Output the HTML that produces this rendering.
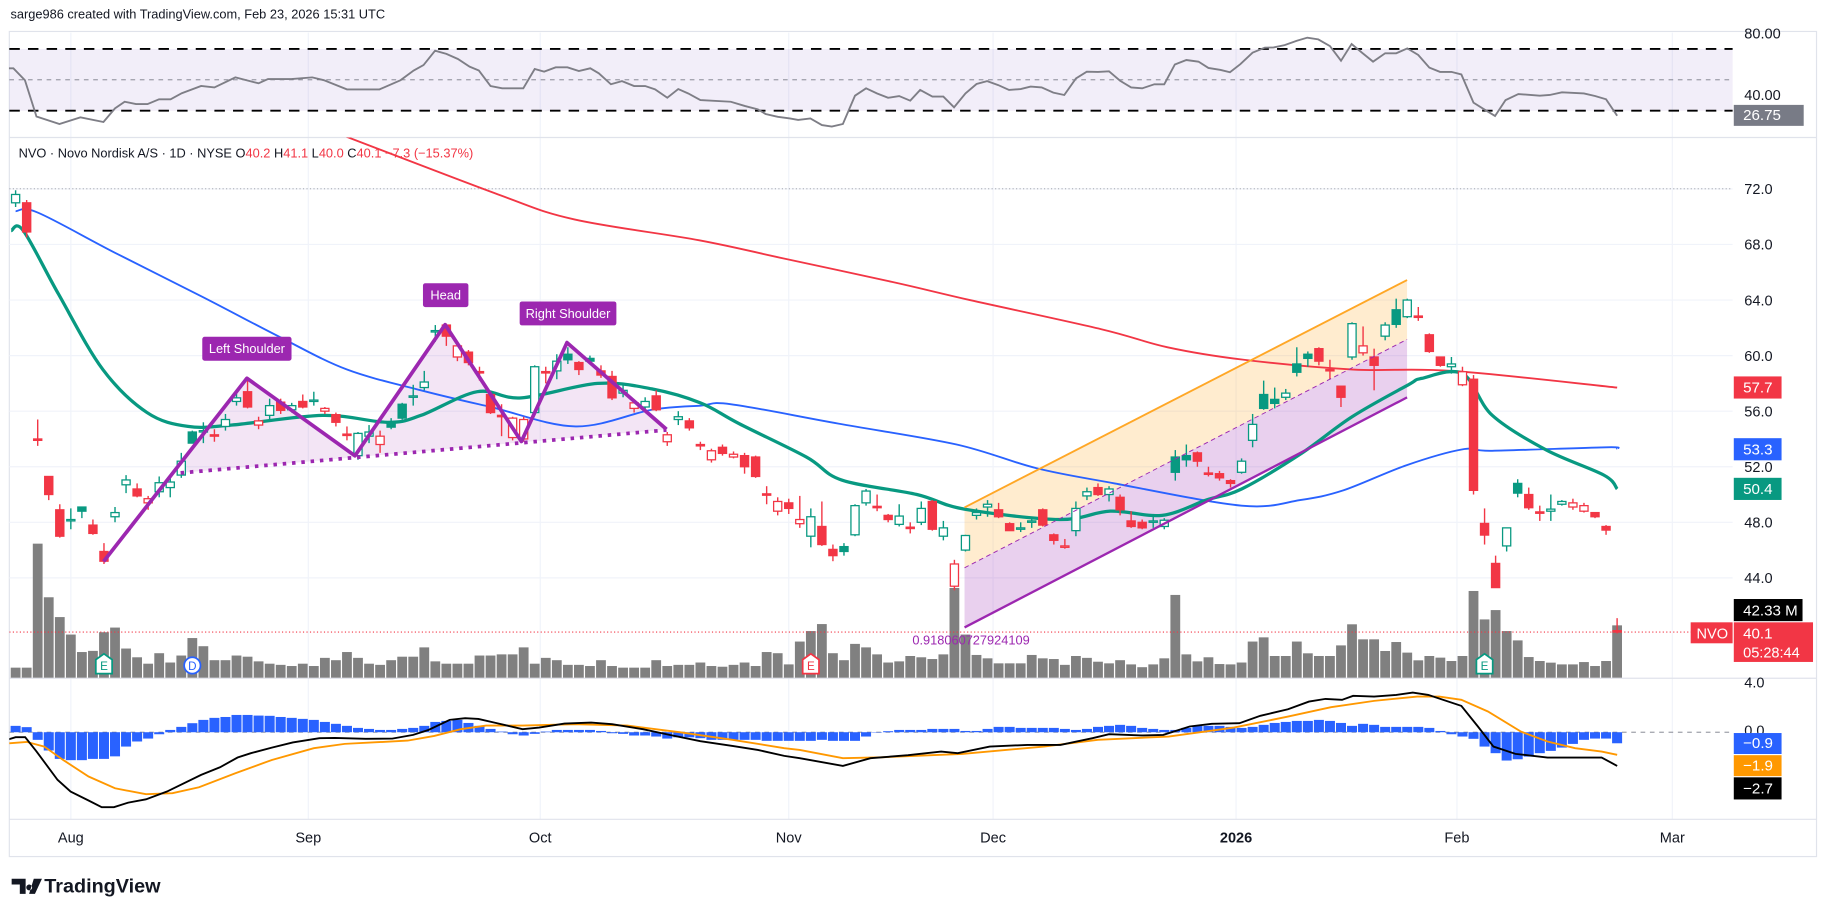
<!DOCTYPE html>
<html><head><meta charset="utf-8">
<style>
html,body{margin:0;padding:0;background:#fff;}
svg{display:block;font-family:"Liberation Sans",sans-serif;}
</style></head>
<body>
<svg id="chart" xmlns="http://www.w3.org/2000/svg" width="1827" height="916" viewBox="0 0 1568 786" preserveAspectRatio="none">
  <text x="9" y="16" font-size="11" fill="#131722">sarge986 created with TradingView.com, Feb 23, 2026 15:31 UTC</text>
  <rect x="8" y="27" width="1551" height="708" fill="#fff" stroke="#e0e3eb" stroke-width="1"/>
  <g id="grid"></g>
  <rect x="8" y="42" width="1479" height="53" fill="#7e57c2" fill-opacity="0.1"/>
  <line x1="8" y1="42" x2="1487" y2="42" stroke="#000" stroke-width="1.6" stroke-dasharray="9,7"/>
  <line x1="8" y1="95" x2="1487" y2="95" stroke="#000" stroke-width="1.6" stroke-dasharray="9,7"/>
  <line x1="8" y1="68.5" x2="1487" y2="68.5" stroke="#787b86" stroke-width="0.8" stroke-dasharray="4,4"/>
  <g id="rsi"></g>
  <line x1="8" y1="118" x2="1559" y2="118" stroke="#e0e3eb"/>
  <line x1="8" y1="582" x2="1559" y2="582" stroke="#e0e3eb"/>
  <line x1="8" y1="703" x2="1559" y2="703" stroke="#e0e3eb"/>
  <line x1="8" y1="162" x2="1487" y2="162" stroke="#9598a1" stroke-width="0.8" stroke-dasharray="1,2"/>
  <defs><clipPath id="mainClip"><rect x="8" y="118" width="1479" height="464"/></clipPath>
  <clipPath id="macdClip"><rect x="8" y="582" width="1479" height="121"/></clipPath></defs>
  <g id="main" clip-path="url(#mainClip)"></g>
  <g id="macd" clip-path="url(#macdClip)"></g>
  <g id="axis"></g>
  <text x="16" y="135" font-size="11" fill="#131722">
    <tspan x="16" y="135">NVO · Novo Nordisk A/S · 1D · NYSE  O</tspan><tspan fill="#f23645">40.2</tspan><tspan>  H</tspan><tspan fill="#f23645">41.1</tspan><tspan>  L</tspan><tspan fill="#f23645">40.0</tspan><tspan>  C</tspan><tspan fill="#f23645">40.1  −7.3 (−15.37%)</tspan>
  </text>
  <g>
    <path d="M10 754 h12 v13 h-5 v-8 h-7z M25 759 a2.5 2.5 0 1 0 0.1 0z M29 754 h7 l-6 13 h-5z" fill="#131722"/>
    <text x="38" y="766" font-size="17" font-weight="bold" fill="#131722">TradingView</text>
  </g>
</svg>
<script>
const opens=[71.0,71.0,54.0,51.3,48.9,48.1,49.1,47.8,45.9,48.4,50.7,50.4,49.4,50.2,50.5,51.4,54.5,54.5,54.3,54.9,56.7,57.4,55.0,55.7,56.65,56.1,56.7,56.7,56.0,55.75,54.35,52.8,54.2,53.6,55.2,56.5,57.0,57.7,61.7,62.2,59.9,60.25,58.85,57.2,55.7,54.1,54.0,55.9,58.85,58.9,60.1,59.5,59.8,58.9,58.5,57.3,56.2,56.3,57.1,53.8,55.4,55.3,53.6,52.5,53.4,52.7,52.8,52.7,50.05,48.8,49.4,47.9,47.0,47.7,46.05,46.25,47.1,49.4,49.15,48.5,47.85,47.65,48.0,49.5,47.0,43.4,46.0,48.5,49.1,48.9,47.9,47.55,48.05,48.9,47.1,46.2,47.4,49.9,50.5,50.0,49.8,48.1,48.0,48.05,47.7,52.7,52.8,53.0,51.55,51.5,51.0,51.6,53.9,57.2,56.85,57.0,59.4,60.1,60.5,59.0,57.8,59.9,60.2,59.9,61.4,63.3,62.8,62.85,61.5,59.9,59.2,57.9,58.3,47.92,45.04,46.3,50.8,50.0,48.75,48.8,49.3,49.1,48.8,48.7,47.7,40.2];
const highs=[71.9,71.2,55.4,51.3,49.3,49.0,49.1,48.2,46.5,49.1,51.4,50.8,49.9,51.3,51.2,53.0,54.6,55.2,54.7,55.8,57.5,58.2,55.6,56.9,56.9,56.6,57.2,57.4,56.3,55.9,54.9,54.5,55.0,54.6,55.5,56.6,57.9,58.9,62.2,62.3,60.9,60.4,59.2,57.4,56.5,55.6,55.6,59.3,59.2,60.1,60.6,59.6,60.0,59.3,58.9,57.9,56.8,57.0,57.5,54.5,56.0,55.5,53.8,53.3,53.6,53.1,53.0,52.8,50.6,49.8,49.7,49.9,49.0,49.5,46.4,46.5,49.3,50.4,50.0,48.6,49.3,48.0,49.5,49.6,48.1,45.3,47.1,49.0,49.6,49.4,48.0,48.0,48.4,49.0,47.2,46.8,49.5,50.5,50.8,50.6,50.0,48.8,48.2,48.6,48.3,53.2,53.6,53.1,52.0,51.7,51.1,52.6,55.8,58.2,57.7,57.6,60.6,60.3,60.6,59.7,57.8,62.4,62.1,60.5,62.4,64.1,64.1,63.5,61.6,59.9,59.9,59.2,58.6,49.0,45.6,47.6,51.1,50.5,49.2,50.0,49.6,49.7,49.4,48.7,47.8,41.1];
const lows=[70.7,68.5,53.5,49.6,46.9,47.5,48.3,47.1,45.0,48.0,50.1,49.8,48.9,49.8,49.8,51.2,53.7,53.7,53.8,54.6,56.4,56.2,54.7,55.4,55.8,55.9,56.2,56.4,55.8,54.9,53.9,52.5,53.7,53.0,54.7,55.4,56.4,57.5,61.0,60.7,59.6,59.3,58.2,55.8,54.2,53.9,53.8,55.7,58.0,58.3,59.4,58.6,59.4,58.4,56.8,57.0,55.9,56.0,56.0,53.5,55.0,54.6,53.2,52.3,52.8,52.6,51.5,51.2,49.3,48.5,48.6,47.6,46.2,46.3,45.2,45.6,47.0,49.2,48.8,48.0,47.7,47.2,47.8,47.4,46.7,43.1,45.9,48.2,48.4,48.3,47.4,47.3,47.6,47.7,46.4,46.1,47.0,49.6,49.9,49.5,48.5,47.6,47.5,47.6,47.5,51.0,52.0,52.0,51.3,51.0,50.5,51.5,53.4,56.1,56.2,56.8,58.5,59.2,59.3,58.3,56.3,59.7,60.0,57.5,61.1,62.0,62.7,62.5,60.2,59.2,58.7,57.8,50.0,46.4,43.3,45.9,49.8,48.9,48.1,48.1,49.2,48.9,48.7,48.3,47.1,40.0];
const closes=[71.6,68.9,53.9,50.0,47.0,48.2,48.8,47.2,45.2,48.7,51.05,49.9,49.7,50.85,50.9,52.4,53.7,54.6,54.25,55.4,56.96,56.3,55.3,56.4,56.06,56.4,56.3,56.8,56.2,55.2,54.3,54.4,54.5,54.2,54.85,55.5,57.1,58.1,61.8,61.4,60.7,59.5,58.8,55.9,55.6,55.5,55.4,59.2,58.8,59.6,59.7,59.0,59.6,58.6,56.96,57.5,56.6,56.7,56.1,54.3,55.6,54.8,53.5,53.15,52.96,52.9,52.0,51.3,50.0,49.5,49.0,48.2,48.4,46.4,45.6,45.9,49.2,50.25,49.1,48.2,48.45,47.6,49.0,47.5,47.6,45.0,47.05,48.7,49.3,48.4,47.4,47.6,48.1,47.8,46.7,46.3,49.0,50.2,50.0,50.4,48.9,47.7,47.6,48.1,48.15,51.6,52.5,52.4,51.5,51.2,50.8,52.4,55.05,56.2,56.56,57.3,58.8,59.8,59.6,58.96,57.0,62.3,60.7,59.3,62.2,62.25,64.0,62.8,60.3,59.3,59.4,58.84,50.3,47.08,43.3,47.6,50.1,49.05,48.7,48.95,49.5,49.4,49.2,48.4,47.44,40.1];
const volumes=[8.6,8.6,115,69,52,37,22,23,39,43,25,17.5,12,21,13,19,34,27,15,15,19,18,14,12,11,10,12,10,17,15,22,17,12,11,15,18,18,26,14,12,12,12,19,19,20,20,26,12,17,15,11,11,10,15,10,8.6,8.6,8.6,15,10,11,
 11,13,10,9.4,11,13,10,22,21,11.4,31,40,46,21,15,29,26,20,13,14,18.6,17.5,16,20,77,37,19.5,16.6,12.3,12.3,12.3,19.5,16.6,16,11,18.6,17,13.7,12.3,15,11.4,9,11.4,16.6,71,20,14,17.5,11.7,11.4,13,31,34.6,18.6,18.6,31,
 20.9,18.6,18.6,27.7,45.8,32.9,32.9,22.9,30.6,21.5,14.9,18.6,17.2,14.3,18.6,74.4,50,58,40,32,17.7,14.3,12.9,11.4,11.4,13.4,10,14.3,44.9];
const ma200Idx=[29.8,43.7,50.6,61.9,69.5,79.4,86.4,98.3,104.3,111.2,121.1,130.1,145];
const ma200Val=[75.8,71.6,69.8,68.3,67.0,65.3,64.0,61.9,60.6,59.7,59.0,58.9,57.7];
const ma50Idx=[0,2,9,17,24,30,36.7,43,50.7,57.6,62,64.8,74.5,85.2,92.4,99.5,111,116.3,120.2,125.9,131,133.7,144,145];
const ma50Val=[70.4,70.3,67.4,64.2,61.3,59.0,57.5,56.3,54.9,56.1,56.4,56.5,55.1,53.6,51.9,50.8,49.2,49.6,50.3,52.1,53.25,53.15,53.4,53.3];
const ma20Idx=[-0.4,0.7,3.9,7.9,11.9,15.6,19.6,27.8,33.7,36.7,41.8,45.8,52.7,57.6,62,65.5,71.6,74.8,81.6,85.9,94.5,99.1,103.8,107.8,111,116.3,121,126.1,127.3,131,133.7,138.6,143.8,145];
const ma20Val=[69.0,69.0,64.4,59.0,55.9,54.9,55.0,55.7,55.2,55.7,57.4,56.96,58.0,57.6,56.6,55.1,52.7,51.04,50.0,48.95,48.2,48.8,48.5,49.6,50.4,52.9,55.6,57.9,58.36,58.7,55.7,53.2,51.4,50.4];
const rsiIdx=[-0.6,-0.2,0.84,1.89,3.97,5.87,7.95,9.0,9.87,10.9,11.94,12.99,14.03,15.04,16.8,18.0,19.9,22.0,22.85,24.96,26.86,27.9,30.0,32.95,34.86,36.04,36.93,37.98,39.0,40.05,41.1,41.95,43.0,44.06,45.97,47.0,47.85,48.9,49.96,51.0,52.03,52.8,53.9,54.9,56.0,57.0,57.9,59.0,60.0,60.9,62.0,64.75,66.05,67.2,67.9,69.0,70.1,70.85,71.96,73.0,73.9,74.9,76.0,77.0,78.0,79.0,80.0,81.0,81.9,83.0,84.0,84.97,86.0,87.0,87.96,88.96,89.95,91.0,91.9,92.9,93.96,94.95,96.0,96.98,98.0,99.0,100.0,101.0,102.0,103.1,104.0,104.96,106.0,107.1,108.0,109.1,109.95,110.9,112.0,113.1,113.9,114.9,116.0,116.95,117.95,119.0,120.0,120.96,121.96,122.9,124.0,125.0,126.0,127.0,128.0,128.97,130.0,130.9,132.0,132.9,133.95,134.9,136.06,138.0,138.9,140.0,142.0,143.0,144.0,145.0];
const rsiVal=[57.5,57.5,49.8,26.2,21.4,25.7,22.7,31.5,35.8,34.3,34.3,37.4,37.4,41.3,46.0,45.1,51.6,47.7,50.5,50.5,51.6,49.8,43.8,43.8,49.8,56.0,59.6,68.9,66.8,63.5,58.5,56.0,46.0,44.5,44.5,57.0,55.3,58.1,58.1,55.7,57.5,54.2,47.1,49.2,46.0,46.0,43.8,38.4,44.0,41.2,36.9,35.8,33.0,30.9,27.9,26.1,25.05,24.0,25.05,20.7,19.7,21.4,39.7,44.5,41.2,38.4,39.5,36.5,43.4,39.1,39.1,32.2,41.2,47.3,49.2,46.6,43.4,44.0,45.6,45.1,41.7,40.2,50.9,55.3,55.1,55.5,49.4,45.1,44.5,47.1,47.1,60.0,62.8,61.8,57.7,56.4,54.9,60.2,67.6,70.8,71.0,72.5,75.3,77.3,76.2,71.9,62.4,73.2,67.2,61.8,67.2,67.2,70.4,66.1,57.9,55.1,55.1,53.5,35.2,31.1,26.6,36.9,40.8,39.7,40.2,41.9,41.2,39.5,37.4,26.75];
const macdIdx=[-0.6,0,0.86,1.9,3.8,4.98,6.6,7.8,8.9,10.2,11.8,13.7,16.8,18.5,20.1,21.3,23.2,25.1,27.5,28.9,31.7,34.1,36.0,37.4,39.3,40.7,41.9,43.6,45.9,47.4,49.7,52.1,54.0,56.8,59.2,62.0,64.9,67.2,69.6,71.0,74.9,77.4,80.8,83.8,85.3,88.2,91.6,94.6,97.5,99.0,101.9,103.9,106.3,108.3,110.8,112.7,115.2,117.1,118.6,120.1,121.1,123.0,125.0,126.5,127.9,130.9,132.4,133.8,135.8,138.7,143.6,145];
const macdVal=[-0.55,-0.39,-0.39,-1.52,-3.75,-4.67,-5.38,-5.9,-5.9,-5.54,-5.28,-4.67,-3.36,-2.76,-1.99,-1.65,-1.21,-0.81,-0.47,-0.45,-0.52,-0.5,-0.21,0.18,0.97,1.1,1.05,0.71,0.24,0.37,0.68,0.76,0.63,0.24,-0.21,-0.71,-1.08,-1.39,-1.86,-2.05,-2.65,-2.05,-1.81,-1.52,-1.65,-1.13,-1.0,-1.0,-0.47,-0.16,-0.26,-0.21,0.45,0.66,0.71,1.29,1.81,2.41,2.62,2.55,2.86,2.81,2.94,3.12,2.94,2.07,0.45,-1.13,-1.71,-1.99,-1.99,-2.65];
const signalIdx=[-0.6,1.0,2.6,4.3,6.6,9.0,11.8,14.2,16.6,19.9,23.2,27.0,29.8,32.7,35.5,37.9,40.3,42.6,45.9,50.7,55.4,60.1,64.9,69.6,71,74.9,78.4,85.7,93.1,98,104.4,110.3,115.2,119.1,123.0,126.9,128.9,130.9,133.3,136.3,138.7,141.2,143.6,145];
const signalVal=[-0.87,-0.76,-1.13,-2.18,-3.49,-4.41,-4.88,-4.8,-4.33,-3.23,-2.18,-1.26,-0.92,-0.79,-0.66,-0.29,0.24,0.52,0.52,0.63,0.52,0,-0.6,-1.26,-1.39,-2.05,-1.97,-1.71,-1.13,-0.6,-0.34,0.37,1.23,1.97,2.47,2.81,2.81,2.55,1.63,0.05,-0.73,-1.26,-1.52,-1.78];
const histVal=[0.5,0.4,-0.6,-1.44,-2.1,-2.2,-2.2,-2.1,-2.1,-1.9,-1.13,-0.73,-0.5,-0.16,0.18,0.42,0.71,0.97,1.13,1.2,1.36,1.36,1.31,1.29,1.2,1.13,1.05,0.97,0.81,0.66,0.5,0.34,0.26,0.18,0.18,0.26,0.34,0.5,0.81,0.89,0.97,0.73,0.5,0.26,0.05,-0.16,-0.26,-0.13,0.05,0.18,0.18,0.18,0.18,0.1,-0.08,-0.13,-0.26,-0.26,-0.34,-0.5,-0.4,-0.4,-0.47,-0.6,-0.6,-0.6,-0.6,-0.6,-0.68,-0.68,-0.68,-0.68,-0.68,-0.6,-0.68,-0.68,-0.68,-0.34,-0.03,0.08,0.18,0.18,0.18,0.26,0.26,0.26,0.1,0.1,0.26,0.42,0.42,0.34,0.34,0.34,0.34,0.26,0.18,0.26,0.42,0.5,0.58,0.5,0.34,0.26,0.18,0.18,0.34,0.5,0.5,0.5,0.42,0.34,0.42,0.58,0.73,0.81,0.89,0.89,0.97,0.89,0.73,0.5,0.66,0.58,0.42,0.42,0.42,0.42,0.34,0.1,-0.16,-0.34,-0.52,-1.13,-1.65,-2.23,-2.13,-1.92,-1.65,-1.47,-1.21,-0.92,-0.6,-0.5,-0.5,-0.87];
const priceTicks=[72,68,64,60,56,52,48,44];
const priceTickLabels=["72.0","68.0","64.0","60.0","56.0","52.0","48.0","44.0"];
const monthIdx=[5,26.5,47.5,70,88.5,110.5,130.5,150];
const monthLabels=["Aug","Sep","Oct","Nov","Dec","2026","Feb","Mar"];
const eventIdx=[8,16,72,133];
const eventLabels=["E","D","E","E"];

const X0=13.4, STEP=9.479;
function xs(i){return X0+STEP*i;}
function yPrice(p){return 162.1+(72-p)*11.92;}
function yRsi(v){return 42+(70-v)*1.325;}
function yMacd(v){return 628.3-v*10.9;}
function yVol(v){return 581.5-v;}
const NS="http://www.w3.org/2000/svg";
function mk(parent,tag,attrs){const e=document.createElementNS(NS,tag);for(const k in attrs)e.setAttribute(k,attrs[k]);parent.appendChild(e);return e;}
function poly(idx,val,yf){return idx.map((d,k)=>xs(d).toFixed(1)+","+yf(val[k]).toFixed(1)).join(" ");}
function smooth(idx,val,yf){
  const p=idx.map((d,k)=>[xs(d),yf(val[k])]);
  let d="M"+p[0][0].toFixed(1)+" "+p[0][1].toFixed(1);
  for(let k=0;k<p.length-1;k++){
    const p0=p[k-1]||p[k],p1=p[k],p2=p[k+1],p3=p[k+2]||p2;
    const c1=[p1[0]+(p2[0]-p0[0])/6,p1[1]+(p2[1]-p0[1])/6];
    const c2=[p2[0]-(p3[0]-p1[0])/6,p2[1]-(p3[1]-p1[1])/6];
    d+=" C"+c1[0].toFixed(1)+" "+c1[1].toFixed(1)+" "+c2[0].toFixed(1)+" "+c2[1].toFixed(1)+" "+p2[0].toFixed(1)+" "+p2[1].toFixed(1);
  }
  return d;
}

const grid=document.getElementById('grid');
const main=document.getElementById('main');
const rsiG=document.getElementById('rsi');
const macdG=document.getElementById('macd');
const axis=document.getElementById('axis');

priceTicks.forEach((p,k)=>{
  const l=mk(grid,'line',{x1:8,x2:1487,y1:yPrice(p),y2:yPrice(p),stroke:'#f0f3fa','stroke-width':1});
  
  
  const t=mk(axis,'text',{x:1497,y:yPrice(p)+4.5,'font-size':12.5,fill:'#131722'});
  t.textContent=priceTickLabels[k];
  
  
});
monthIdx.forEach((d,k)=>{
  const l=mk(grid,'line',{x1:xs(d),x2:xs(d),y1:28,y2:703,stroke:'#f0f3fa','stroke-width':1});
  
  
  const t=mk(axis,'text',{x:xs(d),y:723,'font-size':12.5,fill:'#131722','text-anchor':'middle','font-weight':monthLabels[k]==='2026'?'bold':'normal'});
  t.textContent=monthLabels[k];
  
  
});

const rsiLine=mk(rsiG,'polyline',{points:poly(rsiIdx,rsiVal,yRsi),fill:'none',stroke:'#7e7e86','stroke-width':1.6});



volumes.forEach((v,i)=>{
  const r=mk(main,'rect',{x:xs(i)-4.2,y:yVol(v),width:8.4,height:v,fill:'#808080'});
  
  
});
const pl1=mk(main,'line',{x1:8,x2:1487,y1:yPrice(40.1),y2:yPrice(40.1),stroke:'#f23645','stroke-width':1,'stroke-dasharray':'1,2'});



const chX1=827.8, chX2=1207.6;
const chanFill1=mk(main,'polygon',{points:`${chX1},435.4 ${chX2},240.3 ${chX2},291.2 ${chX1},487.2`,fill:'#ffa726','fill-opacity':0.22});


const chanFill2=mk(main,'polygon',{points:`${chX1},487.2 ${chX2},291.2 ${chX2},341 ${chX1},538.4`,fill:'#9c27b0','fill-opacity':0.22});



const hsFill=mk(main,'polygon',{points:'155,397 211.9,324.6 304.6,391.1 382,278.6 447.5,378.8 486.6,294 572,368.4 155,405.8',fill:'#9c27b0','fill-opacity':0.12});



const red=mk(main,'path',{d:smooth(ma200Idx,ma200Val,yPrice),fill:'none',stroke:'#f23645','stroke-width':1.6});


const blue=mk(main,'path',{d:smooth(ma50Idx,ma50Val,yPrice),fill:'none',stroke:'#2962ff','stroke-width':1.6});


const green=mk(main,'path',{d:smooth(ma20Idx,ma20Val,yPrice),fill:'none',stroke:'#089981','stroke-width':2.8});



closes.forEach((c,i)=>{
  const o=opens[i], prev=i>0?closes[i-1]:o;
  const col=c>=prev?'#089981':'#f23645';
  const hollow=c>o;
  const g=mk(main,'g',{});
  
  
  mk(g,'line',{x1:xs(i),x2:xs(i),y1:yPrice(highs[i]),y2:yPrice(lows[i]),stroke:col,'stroke-width':1.2});
  const top=yPrice(Math.max(o,c)), bot=yPrice(Math.min(o,c));
  const h=Math.max(bot-top,1.2);
  mk(g,'rect',{x:xs(i)-3.5,y:top,width:7,height:h,fill:hollow?'#fff':col,stroke:col,'stroke-width':1.1});
});

const cu=mk(main,'line',{x1:chX1,y1:435.4,x2:chX2,y2:240.3,stroke:'#ffa726','stroke-width':1.6});


const cm=mk(main,'line',{x1:chX1,y1:487.2,x2:chX2,y2:291.2,stroke:'#9c27b0','stroke-width':0.8,'stroke-dasharray':'4,3'});


const cl=mk(main,'line',{x1:chX1,y1:538.4,x2:chX2,y2:341,stroke:'#9c27b0','stroke-width':2});


const cv=mk(main,'text',{x:783,y:553,'font-size':11,fill:'#9c27b0'});
cv.textContent='0.918060727924109';



const zig=mk(main,'polyline',{points:'88.9,481.8 211.9,324.6 304.6,391.1 382,278.6 447.5,378.8 486.6,294 572,368.4',fill:'none',stroke:'#9c27b0','stroke-width':3.2,'stroke-linejoin':'round'});


const neck=mk(main,'line',{x1:155,y1:405.8,x2:572,y2:369,stroke:'#9c27b0','stroke-width':3.2,'stroke-dasharray':'3,5'});


[[173.6,289,76.6,'Left Shoulder','left-shoulder-label'],[363,243,39,'Head','head-label'],[446,258.7,83,'Right Shoulder','right-shoulder-label']].forEach(a=>{
  const g=mk(main,'g',{});
  
  
  mk(g,'rect',{x:a[0],y:a[1],width:a[2],height:20.5,rx:2,fill:'#9c27b0'});
  const t=mk(g,'text',{x:a[0]+a[2]/2,y:a[1]+14,'font-size':11,fill:'#fff','text-anchor':'middle'});
  t.textContent=a[3];
});

eventIdx.forEach((d,k)=>{
  const g=mk(main,'g',{});
  
  
  const x=xs(d);
  const col=k===1?'#2962ff':(k===2?'#f23645':'#089981');
  if(k===1){mk(g,'circle',{cx:x,cy:571,r:7,fill:'#fff',stroke:col,'stroke-width':1.5});}
  else{mk(g,'path',{d:`M${x-7} 566 L${x} 561 L${x+7} 566 L${x+7} 578 L${x-7} 578Z`,fill:'#fff',stroke:col,'stroke-width':1.5});}
  const t=mk(g,'text',{x:x,y:575,'font-size':10,fill:col,'text-anchor':'middle'});
  t.textContent=eventLabels[k];
});

const zl=mk(macdG,'line',{x1:8,x2:1487,y1:yMacd(0),y2:yMacd(0),stroke:'#787b86','stroke-width':0.8,'stroke-dasharray':'4,4'});


histVal.forEach((v,i)=>{
  const y0=yMacd(0), y1=yMacd(v);
  const r=mk(macdG,'rect',{x:xs(i)-4.3,y:Math.min(y0,y1),width:8.6,height:Math.abs(y1-y0),fill:'#2962ff'});
  
  
});
const sig=mk(macdG,'polyline',{points:poly(signalIdx,signalVal,yMacd),fill:'none',stroke:'#ff9800','stroke-width':1.6});


const ml=mk(macdG,'polyline',{points:poly(macdIdx,macdVal,yMacd),fill:'none',stroke:'#000','stroke-width':1.6});



[['80.00',33],['40.00',86],['4.0',590],['0.0',631]].forEach(a=>{
  const t=mk(axis,'text',{x:1497,y:a[1],'font-size':12.5,fill:'#131722'});
  t.textContent=a[0];
  
  
});
[[1488,90,60,18,'#787b86','26.75','rsi-value-badge'],[1488,323,41,19,'#f23645','57.7','ma200-badge'],[1488,376,41,19,'#2962ff','53.3','ma50-badge'],[1488,410,41,19,'#089981','50.4','ma20-badge'],[1488,514,59,19,'#000','42.33 M','volume-badge'],[1488,629,41,18,'#2962ff','−0.9','histogram-badge'],[1488,648,41,18,'#ff9800','−1.9','signal-badge'],[1488,667,41,19,'#000','−2.7','macd-badge']].forEach(a=>{
  const g=mk(axis,'g',{});
  
  
  mk(g,'rect',{x:a[0],y:a[1],width:a[2],height:a[3],fill:a[4]});
  const t=mk(g,'text',{x:a[0]+8,y:a[1]+a[3]-5,'font-size':13,fill:'#fff'});
  t.textContent=a[5];
});
const nv=mk(axis,'g',{});


mk(nv,'rect',{x:1451,y:534,width:36,height:18,fill:'#f23645'});
mk(nv,'rect',{x:1488,y:534,width:68,height:34,fill:'#f23645'});
const nt=mk(nv,'text',{x:1456,y:548,'font-size':12.5,fill:'#fff'});nt.textContent='NVO';
const nt2=mk(nv,'text',{x:1496,y:548,'font-size':13,fill:'#fff'});nt2.textContent='40.1';
const nt3=mk(nv,'text',{x:1496,y:564,'font-size':12.5,fill:'#fff'});nt3.textContent='05:28:44';
</script>
</body></html>
